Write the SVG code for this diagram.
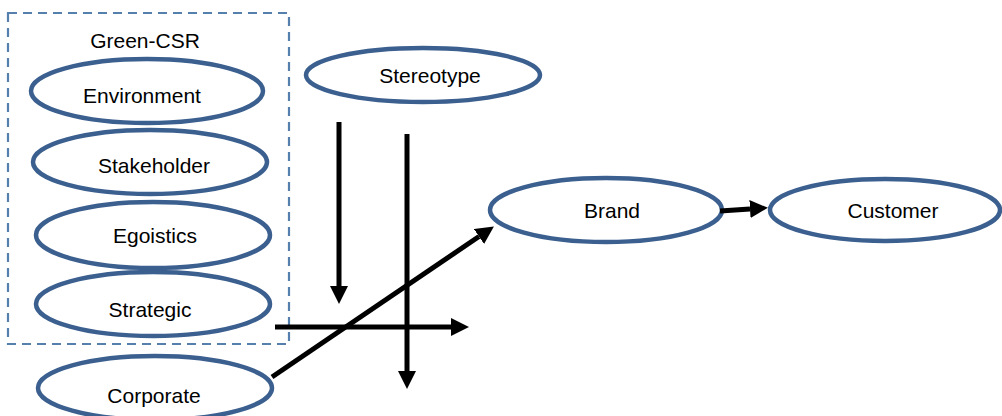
<svg xmlns="http://www.w3.org/2000/svg" width="1002" height="416" viewBox="0 0 1002 416">
<style>
.node ellipse{fill:#ffffff;stroke:#3b5f8e;stroke-width:4.5}
text{font-family:"Liberation Sans",Arial,sans-serif;font-size:21px;fill:#000000;text-anchor:middle}
.conn line{stroke:#000000;stroke-width:5;marker-end:url(#arr)}
</style>
<defs>
<marker id="arr" markerUnits="userSpaceOnUse" markerWidth="18" markerHeight="18" viewBox="0 0 18 18" refX="0" refY="9" orient="auto">
<path d="M0,0 L18,9 L0,18 Z" fill="#000000"/>
</marker>
</defs>
<rect width="1002" height="416" fill="#ffffff"/>
<g id="group-green-csr">
<rect x="8" y="13" width="281" height="331" fill="none" stroke="#5580ad" stroke-width="2.2" stroke-dasharray="9,6"/>
<text x="145" y="48">Green-CSR</text>
</g>
<g id="node-environment" class="node"><ellipse cx="147" cy="91" rx="116" ry="32"/><text x="142" y="103">Environment</text></g>
<g id="node-stakeholder" class="node"><ellipse cx="150" cy="162" rx="117" ry="32"/><text x="154" y="173">Stakeholder</text></g>
<g id="node-egoistics" class="node"><ellipse cx="153" cy="235" rx="117" ry="33"/><text x="155" y="243">Egoistics</text></g>
<g id="node-strategic" class="node"><ellipse cx="153" cy="304" rx="117" ry="32"/><text x="150" y="317">Strategic</text></g>
<g id="node-corporate" class="node"><ellipse cx="155" cy="388" rx="117" ry="32"/><text x="154" y="403">Corporate</text></g>
<g id="node-stereotype" class="node"><ellipse cx="423" cy="75" rx="117" ry="27"/><text x="430" y="83">Stereotype</text></g>
<g id="node-brand" class="node"><ellipse cx="606" cy="210" rx="116" ry="32"/><text x="612" y="218">Brand</text></g>
<g id="node-customer" class="node"><ellipse cx="885" cy="210" rx="115" ry="31"/><text x="893" y="218">Customer</text></g>
<g id="connectors" class="conn">
<line x1="339" y1="122" x2="339" y2="286"/>
<line x1="407" y1="134" x2="407" y2="371"/>
<line x1="275" y1="327" x2="451" y2="327"/>
<line x1="272" y1="377" x2="479" y2="236.5"/>
<line x1="720" y1="211" x2="750" y2="209"/>
</g>
</svg>
